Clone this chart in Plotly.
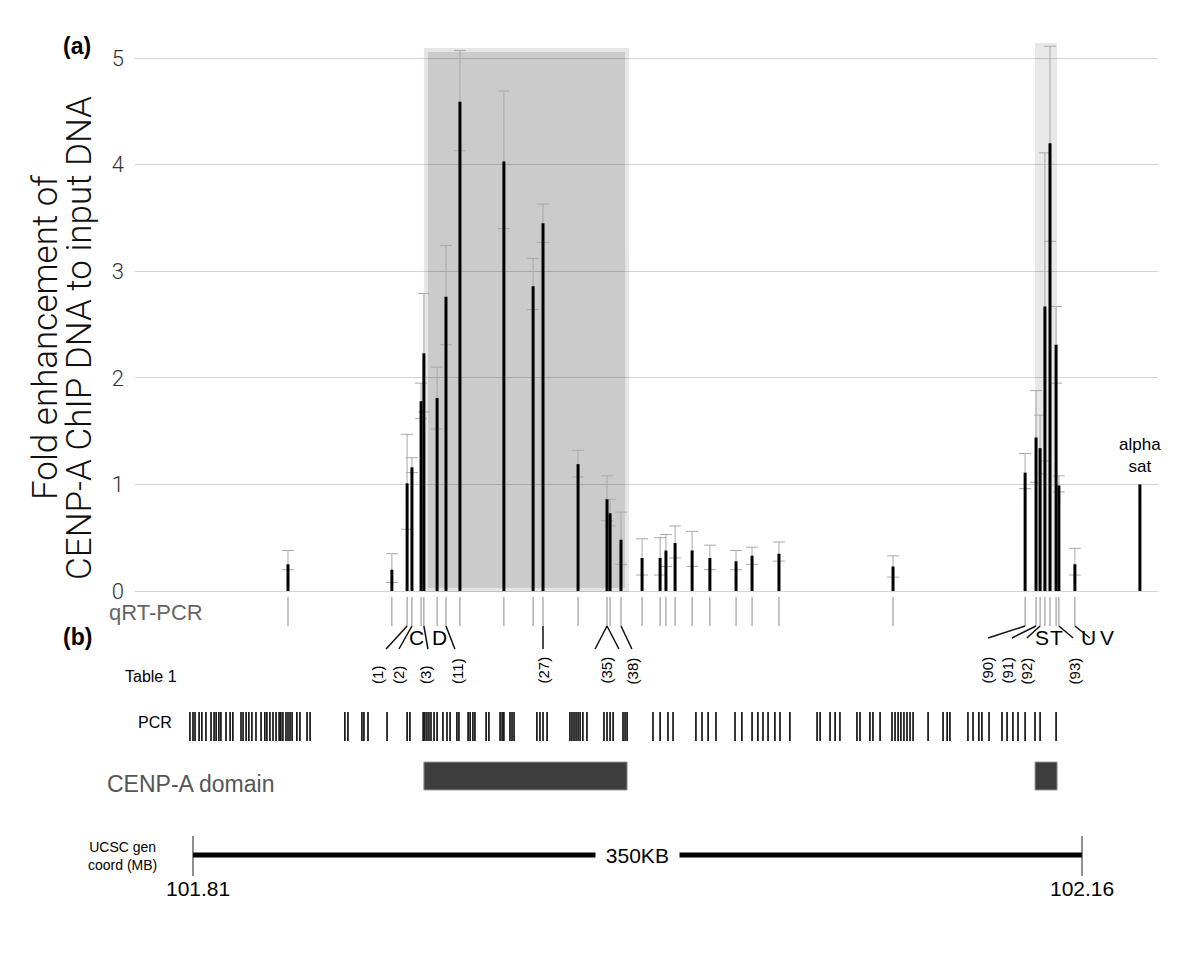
import plotly.graph_objects as go

# ---------------- data (positions in kb from 101.81 MB) ----------------
bar_pos = [37.4, 78.3, 84.3, 86.2, 89.8, 90.9, 96.1, 99.6, 105.1, 122.4,
           133.9, 137.8, 151.6, 163.0, 164.2, 168.5, 176.8, 183.9, 186.2, 189.8,
           196.5, 203.5, 213.8, 220.1, 230.7, 275.6, 327.6, 331.9, 333.5, 335.4,
           337.4, 339.8, 340.9, 347.2]
fold = [0.25, 0.20, 1.01, 1.16, 1.78, 2.23, 1.81, 2.76, 4.59, 4.03,
        2.86, 3.45, 1.19, 0.86, 0.73, 0.48, 0.31, 0.31, 0.38, 0.45,
        0.38, 0.31, 0.28, 0.33, 0.35, 0.23, 1.11, 1.44, 1.34, 2.67,
        4.20, 2.31, 0.99, 0.25]
err_hi = [0.38, 0.35, 1.47, 1.25, 1.95, 2.79, 2.10, 3.24, 5.07, 4.69,
          3.12, 3.63, 1.32, 1.08, 0.86, 0.74, 0.49, 0.50, 0.53, 0.61,
          0.56, 0.43, 0.38, 0.41, 0.46, 0.33, 1.29, 1.88, 1.65, 4.11,
          5.11, 2.67, 1.08, 0.40]
err_lo = [0.20, 0.08, 0.58, 1.11, 1.62, 1.68, 1.52, 2.31, 4.13, 3.40,
          2.64, 3.27, 1.07, 0.66, 0.61, 0.25, 0.15, 0.15, 0.23, 0.31,
          0.23, 0.20, 0.20, 0.25, 0.28, 0.13, 0.96, 1.02, 1.10, 1.22,
          3.28, 1.95, 0.93, 0.15]

alpha_sat_pos = [372.8]
alpha_sat_fold = [1.0]

domain_start = [90.9, 331.5]
domain_end = [170.9, 340.2]

pcr_pos = [-1.2, 0.0, 0.8, 2.4, 3.5, 5.1, 7.1, 8.3, 9.1, 10.2, 11.0, 13.0, 14.6, 15.7,
           18.9, 19.7, 20.9, 22.0, 23.2, 24.8, 26.8, 28.3, 29.1, 30.3, 31.5, 32.7,
           33.9, 34.6, 35.4, 36.6, 37.4, 38.2, 39.0, 40.9, 42.1, 44.9, 46.1,
           59.8, 61.0, 66.5, 67.3, 68.9, 76.4, 84.3, 85.4, 90.6, 91.3, 92.1, 92.9,
           93.7, 94.9, 96.1, 98.4, 100.0, 101.2, 103.9, 104.7, 108.3, 109.1, 110.2,
           111.0, 115.4, 116.5, 120.9, 121.7, 122.4, 124.8, 125.6, 126.4, 135.4,
           136.6, 137.8, 139.4, 148.4, 149.2, 150.0, 150.8, 151.6, 152.4, 153.5,
           155.1, 161.8, 163.0, 164.2, 165.4, 169.3, 170.1, 170.9, 181.1, 183.9,
           187.0, 189.0, 198.0, 200.4, 202.8, 205.9, 213.4, 216.1, 220.1, 222.4,
           224.4, 226.4, 229.1, 231.1, 235.0, 245.7, 246.9, 250.8, 252.8, 254.7,
           261.4, 262.6, 266.5, 267.7, 270.5, 275.2, 276.4, 277.6, 278.7, 279.9,
           281.1, 282.3, 283.5, 289.4, 295.3, 296.9, 298.0, 305.1, 307.1, 309.4,
           310.6, 313.4, 318.5, 320.5, 322.8, 324.8, 327.6, 331.5, 333.5, 339.8]

table_labels = ["(1)", "(2)", "(3)", "(11)", "(27)", "(35)", "(38)",
                "(90)", "(91)", "(92)", "(93)"]
table_pos = [72.4, 80.7, 91.3, 103.9, 137.8, 162.6, 173.2, 312.6, 320.5, 328.3, 347.2]

letter_labels = ["C", "D", "S", "T", "U", "V"]
letter_pos = [87.8, 97.2, 334.3, 339.8, 352.4, 359.8]

conn_left_from = [84.3, 86.2, 90.9, 99.6, 137.8, 163.0, 163.0, 168.5]
conn_left_to = [76.0, 81.1, 92.5, 103.1, 137.8, 158.3, 167.7, 172.8]
conn_right_from = [327.6, 331.9, 333.5, 340.9, 347.2]
conn_right_to = [313.0, 322.4, 328.3, 346.5, 353.1]

coord_labels = ["101.81", "102.16"]
coord_kb = [0, 350]
span_kb = 350

y_ticks = [0, 1, 2, 3, 4, 5]

# ---------------- layout helpers (page pixels; body has an 8px margin) ----------------
OFF = 8
W, H = 1200 - OFF, 959 - OFF
ML, MR, MT, MB = 135 - OFF, 42, 40 - OFF, 19
PW, PH = W - ML - MR, H - MT - MB
PLOT_L, PLOT_B = 135, 940
Y_SPLIT = 596.33  # page pixel row where the upper panel ends


def pxx(px):
    return (px - PLOT_L) / PW


def pxy(py):
    return (PLOT_B - py) / PH


LIGHT = "Roboto, Liberation Sans, sans-serif"
SANS = "Liberation Sans, Arial, sans-serif"

fig = go.Figure()

# error bars (drawn first so the black bars sit on top)
fig.add_trace(go.Scatter(
    x=bar_pos, y=fold, mode="markers", marker=dict(size=0.1, color="rgba(0,0,0,0)"),
    error_y=dict(type="data", symmetric=False,
                 array=[h - v for h, v in zip(err_hi, fold)],
                 arrayminus=[v - l for v, l in zip(fold, err_lo)],
                 color="#a8a8a8", thickness=1, width=6),
    hoverinfo="skip", showlegend=False))


def bars_trace(xs, ys):
    xx, yy = [], []
    for a, v in zip(xs, ys):
        xx += [a, a, None]
        yy += [0, v, None]
    return go.Scatter(x=xx, y=yy, mode="lines", line=dict(color="black", width=3),
                      hoverinfo="skip", showlegend=False)


fig.add_trace(bars_trace(bar_pos, fold))
fig.add_trace(bars_trace(alpha_sat_pos, alpha_sat_fold))


def seg_trace(xs0, xs1, y0, y1, color, width):
    xx, yy = [], []
    for a, b in zip(xs0, xs1):
        xx += [a, b, None]
        yy += [y0, y1, None]
    return go.Scatter(x=xx, y=yy, mode="lines", yaxis="y2",
                      line=dict(color=color, width=width),
                      hoverinfo="skip", showlegend=False)


# qRT-PCR ticks
fig.add_trace(seg_trace(bar_pos, bar_pos, 597, 626, "#8a8a8a", 1))
# connectors
fig.add_trace(seg_trace(conn_left_from, conn_left_to, 626, 649, "#111", 1.5))
fig.add_trace(seg_trace(conn_right_from, conn_right_to, 626, 638, "#111", 1.5))
# PCR barcode
fig.add_trace(seg_trace(pcr_pos, pcr_pos, 712, 741, "#151515", 1.7))
# coordinate bar
fig.add_trace(go.Scatter(x=coord_kb, y=[855, 855], mode="lines", yaxis="y2",
                         line=dict(color="black", width=5),
                         hoverinfo="skip", showlegend=False))
fig.add_trace(seg_trace(coord_kb, coord_kb, 836, 876, "#222", 1))

shapes = []
# shaded CENP-A domains in panel (a)
shapes.append(dict(type="rect", xref="x", yref="y", layer="below",
                   x0=domain_start[0] + 0.8, x1=domain_end[0], y0=0.01, y1=5.075,
                   fillcolor="#cbcbcb", line=dict(color="#e6e6e6", width=4)))
shapes.append(dict(type="rect", xref="x", yref="y", layer="below",
                   x0=domain_start[1], x1=domain_end[1], y0=0, y1=5.14,
                   fillcolor="#e8e8e8", line=dict(width=0)))
# CENP-A domain bars in panel (b)
for s, e in zip(domain_start, domain_end):
    shapes.append(dict(type="rect", xref="x", yref="y2",
                       x0=s, x1=e, y0=762, y1=790,
                       fillcolor="#3d3d3d", line=dict(color="#9a9a9a", width=1)))

ann = []


def txt(text, x, y, size, color="black", family=SANS, xanchor="center",
        yanchor="middle", xref="paper", yref="paper", weight=None, **kw):
    font = dict(size=size, color=color, family=family)
    if weight:
        font["weight"] = weight
    ann.append(dict(text=text, x=x, y=y, xref=xref, yref=yref, showarrow=False,
                    xanchor=xanchor, yanchor=yanchor, font=font, **kw))


txt("<b>(a)</b>", pxx(77), pxy(46), 23)
txt("<b>(b)</b>", pxx(77), pxy(637), 23)
txt("Fold enhancement of", pxx(45), pxy(338), 35, color="#111", family=LIGHT,
    textangle=-90, weight=300)
txt("CENP-A ChIP DNA to input DNA", pxx(79), pxy(338), 35, color="#111", family=LIGHT,
    textangle=-90, weight=300)
txt("qRT-PCR", pxx(107), pxy(612), 22, color="#666", xanchor="left")
txt("Table 1", pxx(123), pxy(676), 16, xanchor="left")
txt("PCR", pxx(136), pxy(722), 16, xanchor="left")
txt("CENP-A domain", pxx(105), pxy(784), 23, color="#555", xanchor="left")
txt("UCSC gen<br>coord (MB)", pxx(122), pxy(856), 14)

for lab, p in zip(letter_labels, letter_pos):
    txt(lab, p, 637, 21, xref="x", yref="y2")
for lab, p in zip(table_labels, table_pos):
    txt(lab, p, 686, 15, xref="x", yref="y2", yanchor="bottom", textangle=-90)
for lab, p, sh in zip(coord_labels, coord_kb, [5, 0]):
    txt(lab, p, 888, 21, xref="x", yref="y2", xshift=sh)
txt("&nbsp;%dKB&nbsp;" % span_kb, (coord_kb[0] + coord_kb[1]) / 2, 855, 21,
    xref="x", yref="y2", bgcolor="white", borderpad=4)
txt("alpha<br>sat", alpha_sat_pos[0], alpha_sat_fold[0], 17, xref="x", yref="y",
    yanchor="bottom", yshift=6)

fig.update_layout(
    width=W, height=H,
    margin=dict(l=ML, r=MR, t=MT, b=MB, autoexpand=False),
    paper_bgcolor="white", plot_bgcolor="white",
    xaxis=dict(range=[-22.83, 379.92], visible=False, fixedrange=True),
    yaxis=dict(domain=[pxy(Y_SPLIT), 1], range=[-0.05, 5.1689],
               tickvals=y_ticks, ticktext=[str(t) for t in y_ticks],
               tickfont=dict(size=22, color="#333", family=LIGHT, weight=300),
               showgrid=True, gridcolor="rgba(0,0,0,0.17)", gridwidth=1,
               zeroline=True, zerolinecolor="rgba(0,0,0,0.17)", zerolinewidth=1,
               showline=False, ticks="", ticklabelstandoff=10, fixedrange=True),
    yaxis2=dict(domain=[0, pxy(Y_SPLIT)], range=[PLOT_B, Y_SPLIT], anchor="x",
                visible=False, fixedrange=True),
    shapes=shapes,
    annotations=ann,
)

fig.write_html("out.html")
